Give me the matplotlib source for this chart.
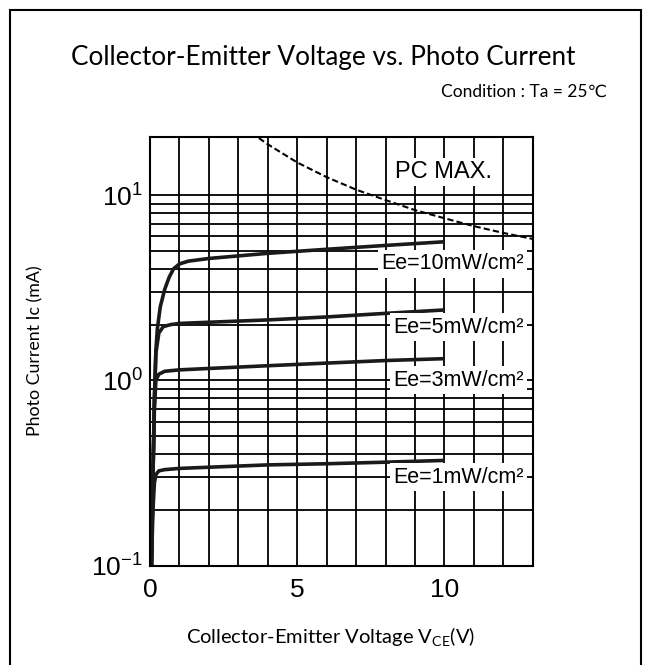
import matplotlib
matplotlib.use("Agg")
from matplotlib import pyplot as plt
from matplotlib import ticker
from matplotlib.patches import Rectangle

plt.rcParams["mathtext.fontset"] = "custom"
plt.rcParams["mathtext.rm"] = "Liberation Sans"
plt.rcParams["mathtext.default"] = "rm"

# curves (Vce in V, Ic in mA)
vce_10 = [0.05, 0.1, 0.15, 0.2, 0.25, 0.35, 0.5, 0.65, 0.8, 1.0, 1.3, 2, 4, 6, 8, 10]
ic_10 = [0.1, 0.3, 0.8, 1.45, 1.9, 2.5, 3.1, 3.6, 4.0, 4.25, 4.4, 4.55, 4.85, 5.1, 5.35, 5.6]

vce_5 = [0.05, 0.1, 0.15, 0.2, 0.3, 0.45, 0.7, 1.0, 2, 4, 6, 8, 10]
ic_5 = [0.1, 0.3, 0.8, 1.4, 1.8, 1.95, 2.0, 2.03, 2.06, 2.12, 2.2, 2.3, 2.4]

vce_3 = [0.05, 0.1, 0.15, 0.2, 0.3, 0.5, 1.0, 2, 4, 6, 8, 10]
ic_3 = [0.1, 0.3, 0.7, 1.0, 1.08, 1.12, 1.14, 1.16, 1.2, 1.24, 1.28, 1.31]

vce_1 = [0.05, 0.1, 0.15, 0.2, 0.3, 0.5, 1.0, 2, 4, 6, 8, 10]
ic_1 = [0.1, 0.2, 0.28, 0.31, 0.325, 0.33, 0.335, 0.34, 0.35, 0.355, 0.362, 0.37]

# PC MAX. boundary
vce_pc = [3.7, 4, 5, 6, 7, 8, 9, 10, 11, 12, 13]
ic_pc = [20.3, 18.8, 15.0, 12.5, 10.7, 9.4, 8.3, 7.5, 6.8, 6.25, 5.8]

labels = ["Ee=10mW/cm²", "Ee=5mW/cm²", "Ee=3mW/cm²", "Ee=1mW/cm²"]
label_y = [4.25, 1.94, 1.0, 0.30]

fig = plt.figure(figsize=(6.51, 6.65), dpi=100)
# outer frame (open at the bottom)
fig.patches.append(Rectangle((10 / 651, -0.05), 631 / 651, 1.05 - 10 / 665,
                             transform=fig.transFigure, fill=False,
                             edgecolor="black", linewidth=1.5))

ax = fig.add_axes([0.2304, 0.1493, 0.5879, 0.6442])
ax.set_yscale("log")
ax.set_xlim(0, 13)
ax.set_ylim(0.1, 20.5)

ax.xaxis.set_major_locator(ticker.FixedLocator([0, 5, 10]))
ax.xaxis.set_minor_locator(ticker.MultipleLocator(1))
ax.yaxis.set_major_locator(ticker.FixedLocator([0.1, 1, 10]))
ax.yaxis.set_major_formatter(ticker.FixedFormatter(["$10^{-1}$", "$10^{0}$", "$10^{1}$"]))
ax.yaxis.set_minor_locator(ticker.FixedLocator(
    [k * 10.0 ** e for e in (-1, 0) for k in range(2, 10)]))
ax.yaxis.set_minor_formatter(ticker.NullFormatter())
ax.tick_params(which="both", length=0, labelsize=19)
ax.tick_params(axis="x", pad=9)
ax.tick_params(axis="y", pad=5)
for t in ax.get_xticklabels() + ax.get_yticklabels():
    t.set_fontfamily("Liberation Sans")

ax.grid(True, which="both", color="black", linewidth=1.3)
ax.set_axisbelow(True)
for s in ax.spines.values():
    s.set_linewidth(1.5)

for vx, iy in [(vce_1, ic_1), (vce_3, ic_3), (vce_5, ic_5), (vce_10, ic_10)]:
    ax.plot(vx, iy, color="#1a1a1a", linewidth=2.6, solid_capstyle="butt")
ax.plot(vce_pc, ic_pc, color="black", linewidth=1.5, linestyle=(0, (3, 1.5)))

for lab, ly in zip(labels, label_y):
    ax.text(12.7, ly, lab, ha="right", va="center", fontsize=15.5,
            family="Liberation Sans",
            bbox=dict(facecolor="white", edgecolor="none", pad=2.5))
ax.text(9.97, 13.3, "PC MAX.", ha="center", va="center", fontsize=17,
        family="Liberation Sans",
        bbox=dict(facecolor="white", edgecolor="none", pad=2))

fig.text(0.497, 0.914, "Collector-Emitter Voltage vs. Photo Current",
         ha="center", va="center", fontsize=18.8, family="Lato")
fig.text(0.932, 0.862, "Condition : Ta = 25℃", ha="right", va="center",
         fontsize=12.5, family=["Lato", "DejaVu Sans"])
fig.text(0.054, 0.472, "Photo Current Ic (mA)", rotation=90, ha="center",
         va="center", fontsize=12.8, family="Lato")
fig.text(0.508, 0.042, "Collector-Emitter Voltage V$_{\\mathregular{CE}}$(V)",
         ha="center", va="center", fontsize=14.5, family="Lato")

fig.savefig("out.png", dpi=100)
